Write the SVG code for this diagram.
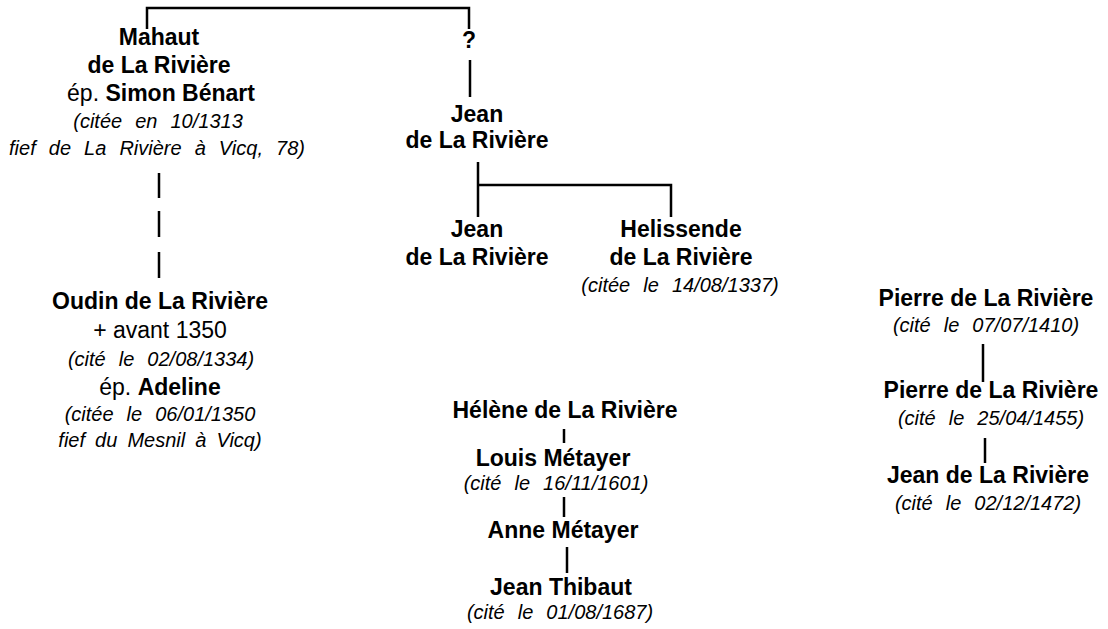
<svg xmlns="http://www.w3.org/2000/svg" width="1108" height="629" viewBox="0 0 1108 629">
<style>
text{font-family:"Liberation Sans",Arial,sans-serif;fill:#000;text-anchor:middle}
.b{font-size:23px;font-weight:bold}
.r{font-size:23px}
.i{font-size:20px;font-style:italic;word-spacing:7.5px}
.c{fill:none;stroke:#000;stroke-width:2.5}
</style>
<rect width="1108" height="629" fill="#fff"/>
<g id="connectors" class="c">
<path d="M147,29 V8 H469 V29"/>
<line x1="470" y1="60" x2="470" y2="97"/>
<path d="M478,162 V217 M478,185 H671 V217"/>
<line x1="159" y1="173" x2="159" y2="198"/>
<line x1="159" y1="211" x2="159" y2="237"/>
<line x1="159" y1="252" x2="159" y2="278"/>
<line x1="564" y1="429" x2="564" y2="443"/>
<line x1="564" y1="497" x2="564" y2="517"/>
<line x1="567" y1="547" x2="567" y2="573"/>
<line x1="983" y1="344" x2="983" y2="382"/>
<line x1="985" y1="438" x2="985" y2="463"/>
</g>
<g id="mahaut">
<text class="b" x="159" y="45">Mahaut</text>
<text class="b" x="159" y="73">de La Rivière</text>
<text class="r" x="161" y="101">ép. <tspan font-weight="bold">Simon Bénart</tspan></text>
<text class="i" x="158" y="128">(citée en 10/1313</text>
<text class="i" x="157" y="155">fief de La Rivière à Vicq, 78)</text>
</g>
<g id="unknown">
<text class="b" x="469" y="48">?</text>
</g>
<g id="jean1">
<text class="b" x="477" y="122">Jean</text>
<text class="b" x="477" y="148">de La Rivière</text>
</g>
<g id="jean2">
<text class="b" x="477" y="237">Jean</text>
<text class="b" x="477" y="265">de La Rivière</text>
</g>
<g id="helissende">
<text class="b" x="681" y="237">Helissende</text>
<text class="b" x="681" y="265">de La Rivière</text>
<text class="i" x="680" y="292">(citée le 14/08/1337)</text>
</g>
<g id="oudin">
<text class="b" x="160" y="309">Oudin de La Rivière</text>
<text class="r" x="160" y="338">+ avant 1350</text>
<text class="i" x="161" y="366">(cité le 02/08/1334)</text>
<text class="r" x="160" y="395">ép. <tspan font-weight="bold">Adeline</tspan></text>
<text class="i" x="160" y="421">(citée le 06/01/1350</text>
<text class="i" x="160" y="447" style="word-spacing:4.5px">fief du Mesnil à Vicq)</text>
</g>
<g id="helene">
<text class="b" x="565" y="418">Hélène de La Rivière</text>
</g>
<g id="louis">
<text class="b" x="553" y="466">Louis Métayer</text>
<text class="i" x="556" y="490">(cité le 16/11/1601)</text>
</g>
<g id="anne">
<text class="b" x="563" y="538">Anne Métayer</text>
</g>
<g id="thibaut">
<text class="b" x="561" y="595">Jean Thibaut</text>
<text class="i" x="560" y="619">(cité le 01/08/1687)</text>
</g>
<g id="pierre1">
<text class="b" x="986" y="306">Pierre de La Rivière</text>
<text class="i" x="986" y="332">(cité le 07/07/1410)</text>
</g>
<g id="pierre2">
<text class="b" x="991" y="398">Pierre de La Rivière</text>
<text class="i" x="991" y="425">(cité le 25/04/1455)</text>
</g>
<g id="jean3">
<text class="b" x="988" y="483">Jean de La Rivière</text>
<text class="i" x="988" y="510">(cité le 02/12/1472)</text>
</g>
</svg>
